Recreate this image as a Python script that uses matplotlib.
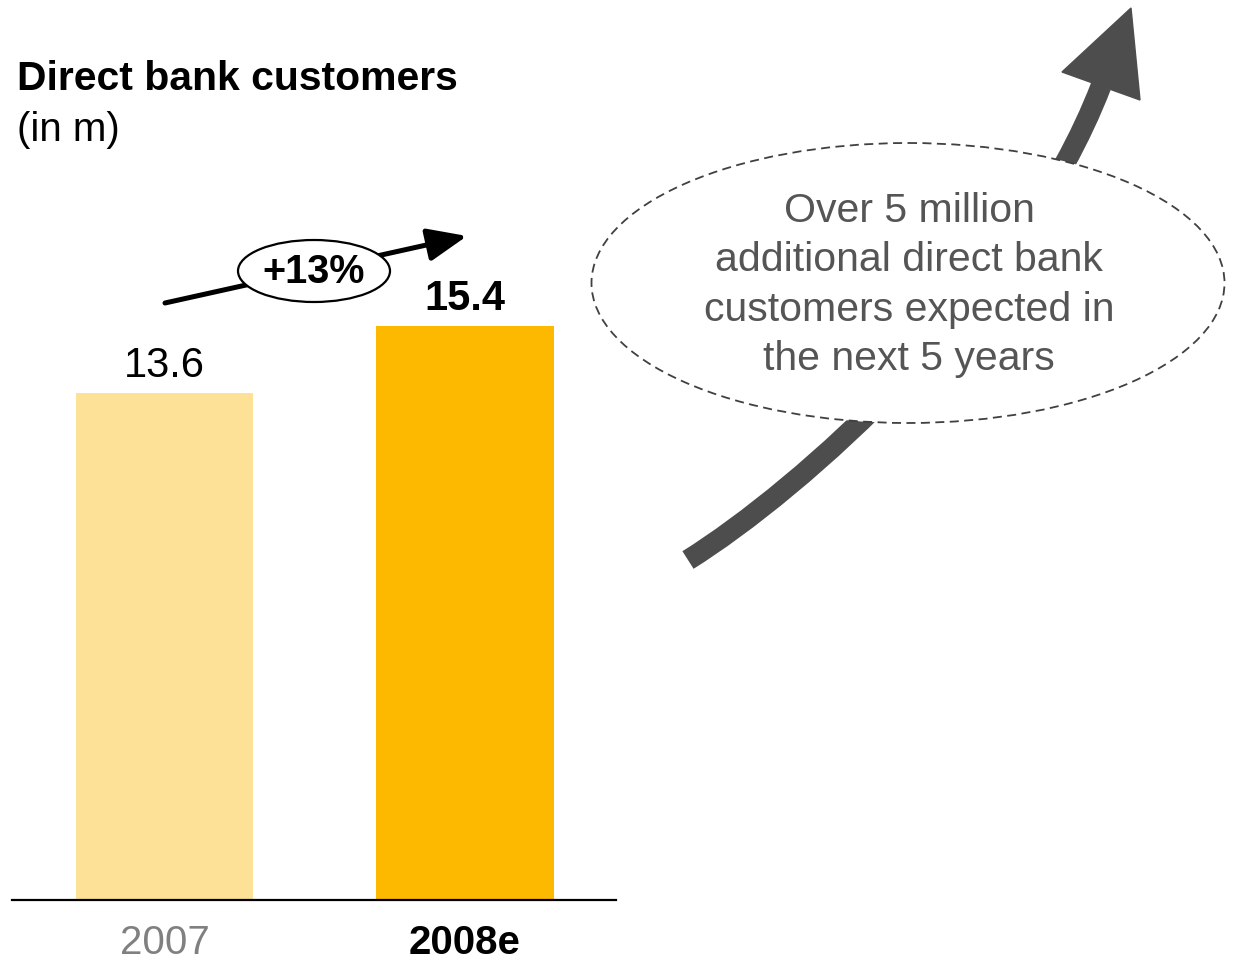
import matplotlib.pyplot as plt
from matplotlib.patches import Ellipse, Polygon, PathPatch
from matplotlib.path import Path

plt.rcParams['font.family'] = ['Liberation Sans', 'DejaVu Sans']

# Data
years = ['2007', '2008e']
customers = [13.6, 15.4]
bar_colors = ['#FDE196', '#FDB900']
growth_label = '+13%'
note = 'Over 5 million\nadditional direct bank\ncustomers expected in\nthe next 5 years'

W, H = 1234, 961
fig = plt.figure(figsize=(W / 100, H / 100), dpi=100)

# bar axes: baseline at y=900px, 37.28 px per million
ax = fig.add_axes([12 / W, (H - 900) / H, 604 / W, 800 / H])
ax.set_ylim(0, 800 / 37.28)
ax.set_xlim(-152.5 / 300.5, (604 - 152.5) / 300.5)
x = range(len(years))
bars = ax.bar(x, customers, width=0.59, color=bar_colors, zorder=2)
for s in ['top', 'right', 'left']:
    ax.spines[s].set_visible(False)
ax.spines['bottom'].set_linewidth(1.6)
ax.set_yticks([])
ax.set_xticks(list(x))
ax.set_xticklabels(years, fontsize=29)
ax.tick_params(axis='x', length=0, pad=17)
lbls = ax.get_xticklabels()
lbls[0].set_color('#808080')
lbls[1].set_color('black')
lbls[1].set_fontweight('bold')

ax.text(x[0], customers[0] + 0.18, f'{customers[0]:.1f}', ha='center', va='bottom', fontsize=30)
ax.text(x[1], customers[1] + 0.18, f'{customers[1]:.1f}', ha='center', va='bottom', fontsize=30,
        fontweight='bold')

# overlay in pixel coordinates for annotations
ov = fig.add_axes([0, 0, 1, 1], facecolor='none')
ov.set_xlim(0, W)
ov.set_ylim(H, 0)
ov.axis('off')

fig.text(17 / W, 1 - 79 / H, 'Direct bank customers', fontsize=29.4, fontweight='bold', va='center')
fig.text(17 / W, 1 - 130 / H, '(in m)', fontsize=29, va='center')

# growth arrow
ov.annotate('', xy=(467, 236), xytext=(165, 303),
            arrowprops=dict(arrowstyle='-|>,head_length=1.2,head_width=0.5', lw=3.6, color='black',
                            shrinkA=0, shrinkB=0, mutation_scale=20))
ov.add_patch(Ellipse((314, 271), 152, 62, facecolor='white', edgecolor='black', lw=1.6, zorder=3))
ov.text(314, 272, growth_label, ha='center', va='center', fontsize=28.5, fontweight='bold', zorder=4)

# big curved arrow
grey = '#4D4D4D'
curve = Path([(688, 560), (800, 490), (1020, 296), (1101, 86)],
             [Path.MOVETO, Path.CURVE4, Path.CURVE4, Path.CURVE4])
ov.add_patch(PathPatch(curve, facecolor='none', edgecolor=grey, lw=15, capstyle='butt', zorder=1))
ov.add_patch(Polygon([(1062, 72), (1131, 8), (1140, 100)], closed=True, color=grey, zorder=1))

ov.add_patch(Ellipse((908, 283), 633, 280, facecolor='white', edgecolor='#404040', lw=1.3,
                     linestyle=(0, (5, 3)), zorder=2))
ov.text(909, 285, note, ha='center', va='center', fontsize=29.5, color='#555555',
        linespacing=1.37, zorder=3)

fig.savefig('out.png', dpi=100)
